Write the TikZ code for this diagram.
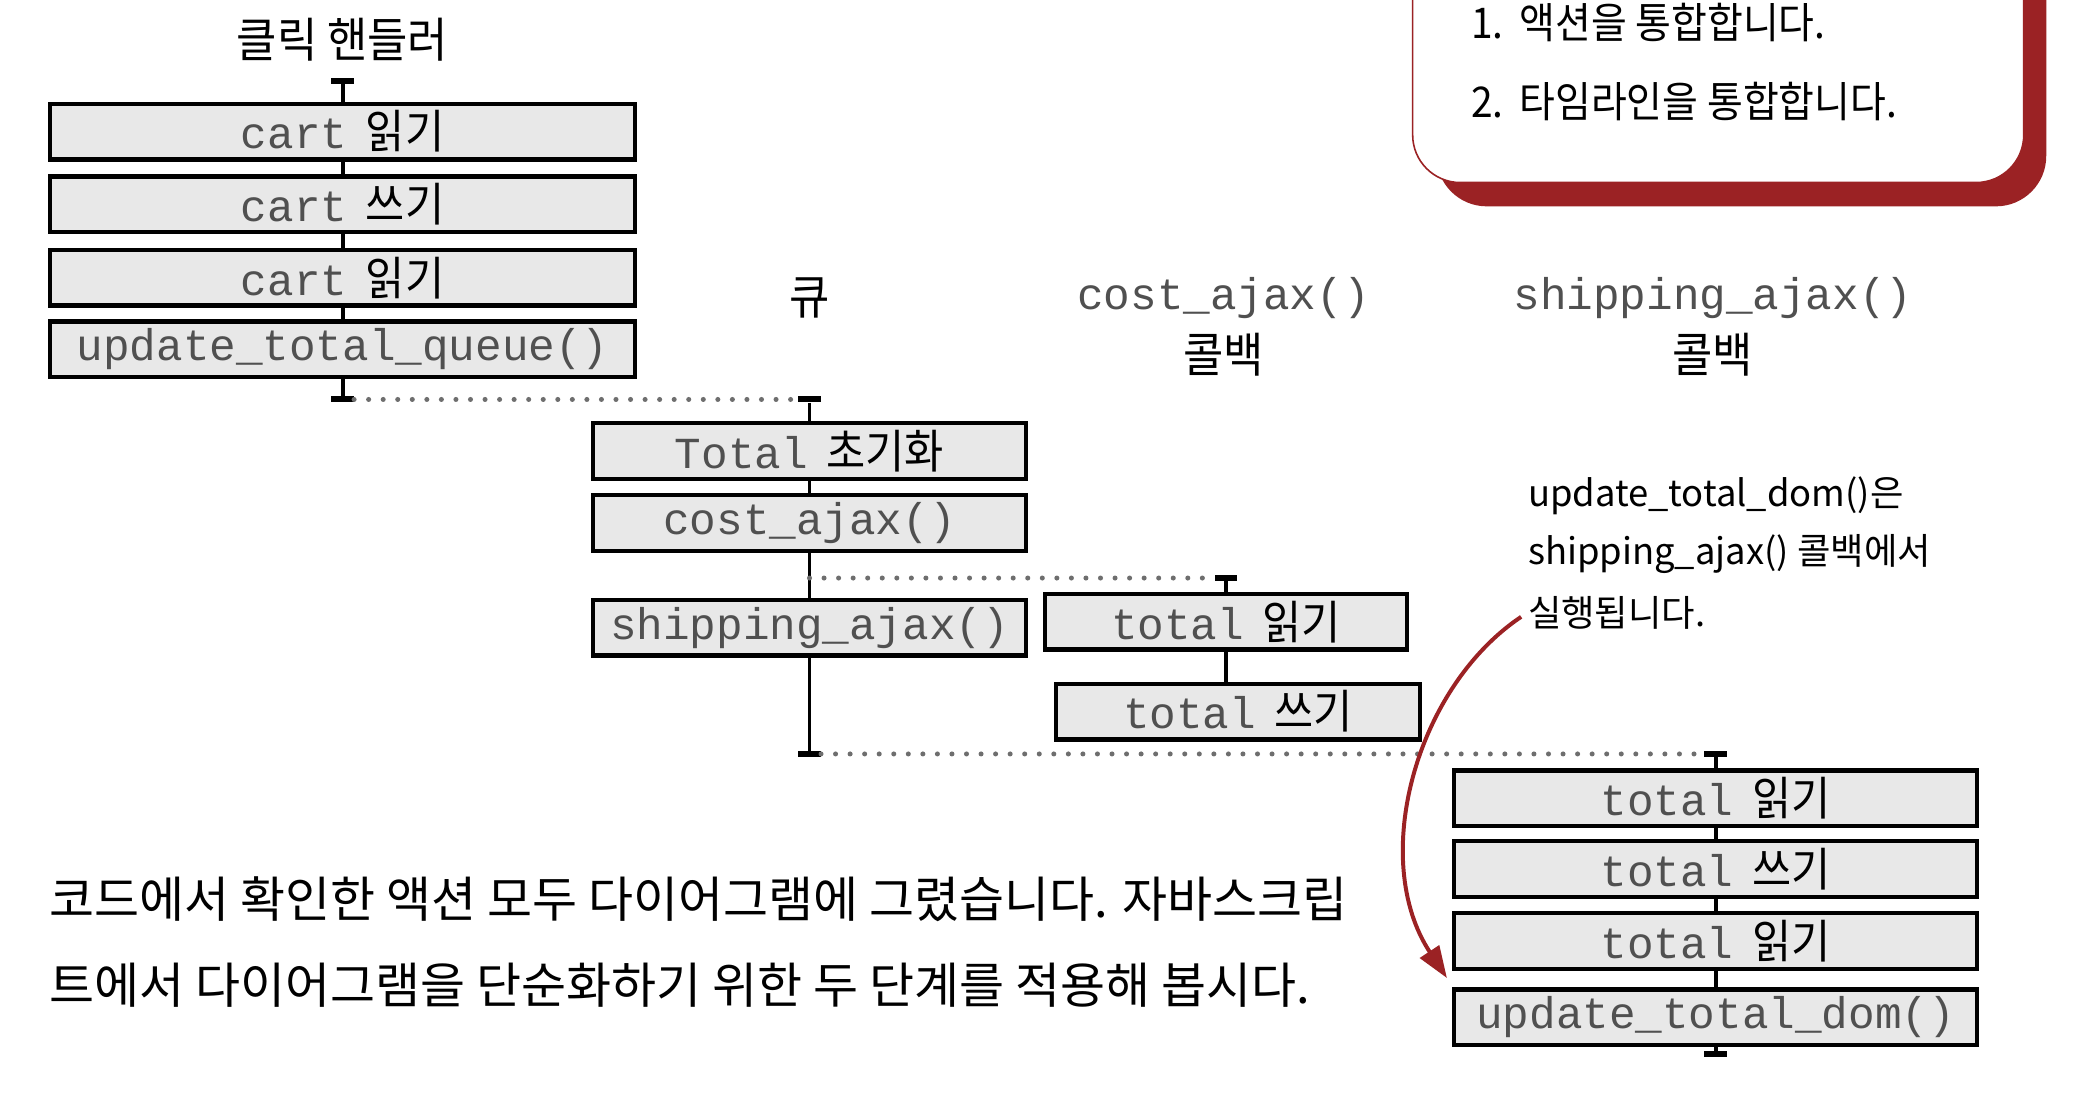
\documentclass[tikz,border=0pt]{standalone}
\usepackage{fontspec}
\setmainfont{Noto Sans CJK KR}
\setmonofont{Liberation Mono}
\newfontfamily\kr{Noto Sans CJK KR}
\newfontfamily\krn[FakeStretch=0.92]{Noto Sans CJK KR}
\usetikzlibrary{arrows.meta}

\definecolor{boxgray}{RGB}{232,232,232}
\definecolor{codegray}{RGB}{80,80,80}
\definecolor{dotgray}{RGB}{110,110,110}
\definecolor{calloutred}{RGB}{155,34,36}
\newcommand{\ko}[1]{{\hspace{-6pt}\color{black}\fontsize{35}{36}\krn #1}}

\begin{document}
\begin{tikzpicture}[x=1pt, y=-1pt,
    act/.style={draw, line width=3.2pt, fill=boxgray, text=codegray, inner sep=0pt,
                minimum height=42pt, font=\fontsize{33.5}{36}\selectfont\ttfamily},
    endbar/.style={fill=black, inner sep=0pt, minimum width=17pt, minimum height=4.5pt},
    tline/.style={line width=3pt},
    waitline/.style={line width=3.8pt, dotgray, dash pattern=on 0pt off 11pt, line cap=round},
    lanehead/.style={inner sep=0pt, font=\fontsize{36}{40}\selectfont\krn},
    codelbl/.style={inner sep=0pt, text=codegray, font=\fontsize{33.5}{36}\selectfont\ttfamily},
    notetxt/.style={inner sep=0pt, anchor=west, font=\fontsize{27.5}{30}\selectfont\kr},
    bodytxt/.style={inner sep=0pt, anchor=west, font=\fontsize{37}{40}\selectfont\kr},
]
% page
\path[use as bounding box, fill=white] (0,0) rectangle (1568,830);

% Click handler
\node[lanehead] (chhead) at (259,30) {클릭 핸들러};
\node[endbar] (ch0) at (259,61) {};
\foreach \i/\y/\txt in {1/99.5/{cart \ko{읽기}}, 2/154.5/{cart \ko{쓰기}},
                        3/210/{cart \ko{읽기}}, 4/264/{update\_total\_queue()}} {
    \node[act, minimum width=442pt] (ch\i) at (259,\y) {\txt};
}
\node[endbar] (ch5) at (259,302) {};
\draw[tline] (ch0) -- (ch1) -- (ch2) -- (ch3) -- (ch4) -- (ch5);

% Queue
\node[lanehead] (qhead) at (612,225) {큐};
\node[endbar] (q0) at (612,302) {};
\node[act, minimum width=327pt] (q1) at (612,341) {Total \ko{초기화}};
\node[act, minimum width=327pt] (q2) at (612,395.5) {cost\_ajax()};
\node[act, minimum width=327pt] (q3) at (612,474.5) {shipping\_ajax()};
\node[endbar] (q4) at (612,570) {};
\coordinate (qfork) at (612,437);
\draw[tline] (q0) -- (q1) -- (q2) -- (q3) -- (q4);
\draw[waitline] (ch5) -- (q0);

% cost_ajax() callback
\node[codelbl] (chead) at (925,225) {cost\_ajax()};
\node[lanehead] (chead2) at (925,268) {콜백};
\node[endbar] (c0) at (927,437) {};
\node[act, minimum width=274pt] (c1) at (927,470) {total \ko{읽기}};
\node[act, minimum width=275pt] (c2) at (936,538) {total \ko{쓰기}};
\draw[tline] (c0) -- (c1);
\draw[tline] (c1.south) -- (c1.south |- c2.north);
\draw[waitline] (qfork) -- (c0);

% shipping_ajax() callback
\node[codelbl] (shead) at (1295,225) {shipping\_ajax()};
\node[lanehead] (shead2) at (1295,268) {콜백};
\node[endbar] (s0) at (1297,570) {};
\foreach \i/\y/\txt in {1/603.5/{total \ko{읽기}}, 2/657/{total \ko{쓰기}},
                        3/711.5/{total \ko{읽기}}, 4/769/{update\_total\_dom()}} {
    \node[act, minimum width=395pt] (s\i) at (1297,\y) {\txt};
}
\node[endbar] (s5) at (1297,797) {};
\draw[tline] (s0) -- (s1) -- (s2) -- (s3) -- (s4) -- (s5);
\draw[waitline] (q4) -- (s0);

% Callout box (top right)
\fill[calloutred, rounded corners=38pt] (1086,-80) rectangle (1547,156);
\draw[calloutred, fill=white, line width=1.2pt, rounded corners=36pt] (1068,-80) rectangle (1530,138);
\node[inner sep=0pt, anchor=west, font=\fontsize{32}{36}\selectfont\krn] (step1) at (1112,17) {1.\hspace{12pt}액션을 통합합니다.};
\node[inner sep=0pt, anchor=west, font=\fontsize{32}{36}\selectfont\krn] (step2) at (1112,77) {2.\hspace{12pt}타임라인을 통합합니다.};

% Note and arrow
\node[notetxt] (note1) at (1155,375) {update\_total\_dom()은};
\node[notetxt] (note2) at (1155,419) {shipping\_ajax() 콜백에서};
\node[notetxt] (note3) at (1155,463) {실행됩니다.};
\draw[-{Triangle[length=24pt, width=17pt]}, line width=3pt, calloutred, shorten <=6pt]
    (note3.west) .. controls (1070,520) and (1035,650) .. ([shift={(-4,-7)}]s4.north west);

% Text below
\node[bodytxt] (para1) at (37,680) {코드에서 확인한 액션 모두 다이어그램에 그렸습니다. 자바스크립};
\node[bodytxt] (para2) at (37,745) {트에서 다이어그램을 단순화하기 위한 두 단계를 적용해 봅시다.};
\end{tikzpicture}
\end{document}
